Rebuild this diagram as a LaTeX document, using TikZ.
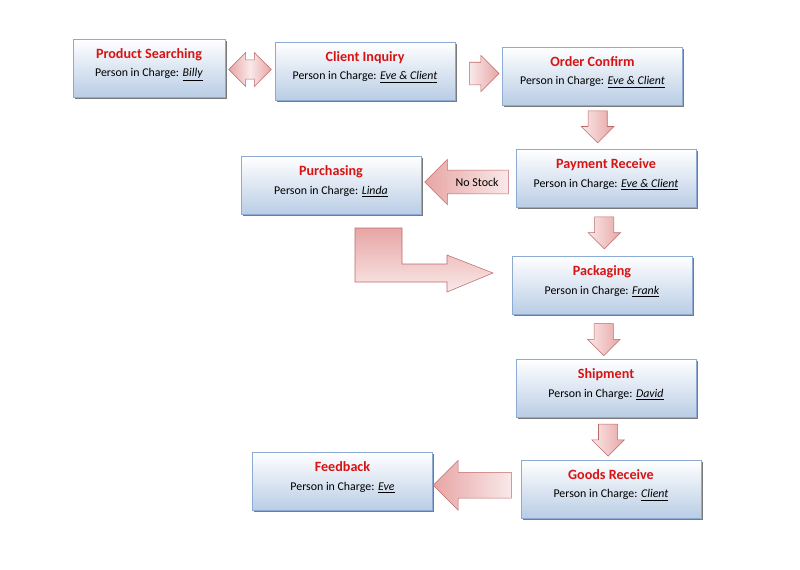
\documentclass[tikz,border=0pt]{standalone}
\usepackage{fontspec}
\setmainfont{Carlito}
\usetikzlibrary{shapes.arrows,shadows,calc}
\definecolor{boxblue}{RGB}{185,205,229}
\definecolor{boxline}{RGB}{140,170,210}
\definecolor{titlered}{RGB}{215,20,20}
\definecolor{arrowpink}{RGB}{232,165,165}
\definecolor{arrowline}{RGB}{190,105,105}
\newcommand{\incharge}[1]{Person in Charge: \underline{\textit{#1}}\\[-6pt]\mbox{}}
\newcommand{\stagetitle}[1]{{\fontsize{10.6}{14}\selectfont\bfseries\color{titlered}#1}}

\begin{document}
\begin{tikzpicture}
  [x=0.75pt,y=-0.75pt,
   every node/.style={font=\fontsize{8.9}{14}\selectfont},
   stagebox/.style={draw=boxline,top color=white,bottom color=boxblue,
     align=center,minimum width=135pt,minimum height=43.5pt,
     drop shadow={shadow xshift=1.2pt,shadow yshift=-1.2pt,fill=black!65,opacity=.8}},
   fatarrow/.style={draw=arrowline,single arrow,inner xsep=0pt,
     left color=white!75!arrowpink,right color=arrowpink},
   fatleft/.style={fatarrow,shape border rotate=180,
     left color=arrowpink,right color=white!75!arrowpink},
   fatdown/.style={fatarrow,rotate=-90,minimum height=24pt,inner ysep=7pt,
     minimum width=24pt,single arrow head extend=5pt}]
  \useasboundingbox (0,0) rectangle (800,569);

  \node[stagebox,minimum width=114pt] (ps) at (149,68)
    {\stagetitle{Product Searching}\\ \incharge{Billy}};
  \node[stagebox] (ci) at (365,71)
    {\stagetitle{Client Inquiry}\\ \incharge{Eve \& Client}};
  \node[stagebox] (oc) at (592.5,76)
    {\stagetitle{Order Confirm}\\ \incharge{Eve \& Client}};
  \node[stagebox] (pr) at (606,178.5)
    {\stagetitle{Payment Receive}\\ \incharge{Eve \& Client}};
  \node[stagebox] (pu) at (331,185.5)
    {\stagetitle{Purchasing}\\ \incharge{Linda}};
  \node[stagebox] (pk) at (602,285.5)
    {\stagetitle{Packaging}\\ \incharge{Frank}};
  \node[stagebox] (sh) at (606,388.5)
    {\stagetitle{Shipment}\\ \incharge{David}};
  \node[stagebox] (gr) at (611,489)
    {\stagetitle{Goods Receive}\\ \incharge{Client}};
  \node[stagebox] (fb) at (342.5,481.5)
    {\stagetitle{Feedback}\\ \incharge{Eve}};

  % block arrows between the stages
  \node[fatarrow,double arrow,minimum height=32pt,minimum width=25pt,inner ysep=7pt,
    double arrow head extend=5.5pt,left color=arrowpink,middle color=white!75!arrowpink]
    (a1) at ($(ps.east)!.5!(ci.west)$) {};
  \node[fatarrow,minimum height=22pt,minimum width=27pt,inner ysep=8.25pt,
    single arrow head extend=5.25pt] (a2) at ($(ci.east)!.5!(oc.west)$) {};
  \node[fatdown] (a3) at ($(oc.south)!.38!(pr.north)$) {};
  \node[fatleft,minimum height=59pt,minimum width=34pt,inner ysep=5pt,
    single arrow head extend=7.5pt,font=\fontsize{9}{11}\selectfont,xshift=3pt]
    (a4) at ($(pu.east)!.5!(pr.west)$) {\hspace*{14pt}No Stock\hspace*{7pt}};
  \node[fatdown] (a5) at ($(pr.south)!.42!(pk.north)$) {};
  \node[fatdown] (a6) at ($(pk.south)!.45!(sh.north)$) {};
  \node[fatdown] (a7) at ($(sh.south)!.42!(gr.north)$) {};
  \node[fatleft,minimum height=58.5pt,minimum width=37pt,inner ysep=9.5pt,
    single arrow head extend=9pt,xshift=1.5pt] (a8) at ($(gr.west)!.5!(fb.east)$) {};

  % bent arrow from purchasing to packaging
  \draw[arrowline,top color=arrowpink,bottom color=white!75!arrowpink]
    (355,228) -- (402,228) -- (402,264) -- (447,264) -- (447,255) -- (493,273)
    -- (447,292) -- (447,282) -- (355,282) -- cycle;

\end{tikzpicture}
\end{document}
